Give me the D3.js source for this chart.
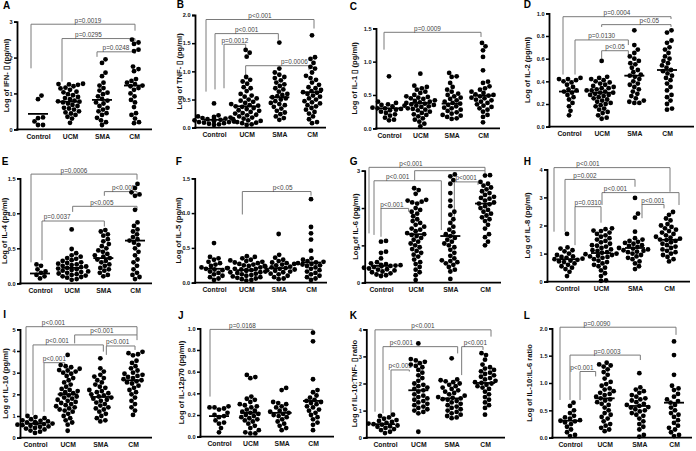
<!DOCTYPE html>
<html><head><meta charset="utf-8">
<script src="https://cdn.jsdelivr.net/npm/d3@7"></script>
<style>body{margin:0;background:#fff}svg{display:block}</style>
</head><body><svg id="c" width="696" height="451"></svg>
<script>
const categories = ["Control","UCM","SMA","CM"];

// ---- values (log units), one array per group ----
const valsA = [
 [0.94,0.84,0.33,0.31,0.22,0.12,0.12],
 [1.27,1.26,1.25,1.24,1.2,1.16,1.14,1.1,1.05,1.03,0.98,0.95,0.9,0.87,0.84,0.8,0.78,0.77,0.75,0.72,0.68,0.65,0.6,0.58,0.55,0.5,0.47,0.44,0.4,0.35,0.3,0.18],
 [1.95,1.85,1.58,1.48,1.3,1.22,1.15,1.08,1.02,0.98,0.92,0.85,0.8,0.75,0.72,0.65,0.6,0.55,0.5,0.45,0.4,0.32,0.25,0.2,0.12],
 [2.5,2.42,2.38,2.22,2.18,1.75,1.68,1.62,1.4,1.35,1.3,1.26,1.22,1.2,1.15,1.1,1.0,0.92,0.82,0.75,0.62,0.45,0.4,0.3,0.2,0.17]];
const valsB = [
 [0.43,0.22,0.2,0.19,0.18,0.17,0.16,0.15,0.15,0.14,0.14,0.13,0.12,0.12,0.11,0.1,0.1,0.09,0.08,0.07,0.06,0.05],
 [1.38,1.33,1.26,0.9,0.85,0.82,0.78,0.72,0.7,0.65,0.6,0.57,0.55,0.52,0.5,0.48,0.46,0.44,0.42,0.4,0.39,0.38,0.37,0.35,0.33,0.31,0.3,0.28,0.26,0.25,0.23,0.22,0.2,0.18,0.16,0.15,0.13,0.12,0.1,0.09,0.08,0.06,0.05],
 [1.51,1.05,0.98,0.94,0.9,0.88,0.84,0.8,0.77,0.74,0.7,0.68,0.64,0.6,0.58,0.56,0.54,0.52,0.5,0.47,0.44,0.42,0.4,0.37,0.34,0.3,0.27,0.24,0.2,0.17,0.14],
 [1.64,1.25,1.22,1.15,1.08,1.05,0.98,0.92,0.88,0.85,0.8,0.76,0.72,0.7,0.67,0.65,0.63,0.62,0.6,0.57,0.55,0.52,0.5,0.47,0.45,0.43,0.4,0.38,0.35,0.32,0.28,0.25,0.2,0.15,0.1,0.08]];
const valsC = [
 [0.78,0.4,0.38,0.36,0.35,0.34,0.33,0.31,0.3,0.3,0.29,0.28,0.27,0.25,0.23,0.21,0.19,0.16,0.13,0.12],
 [0.82,0.64,0.62,0.6,0.58,0.55,0.53,0.5,0.48,0.47,0.46,0.45,0.44,0.42,0.41,0.4,0.39,0.38,0.37,0.36,0.35,0.34,0.33,0.32,0.3,0.29,0.28,0.27,0.25,0.23,0.21,0.2,0.18,0.15,0.13,0.1,0.07,0.03],
 [0.83,0.78,0.77,0.68,0.62,0.58,0.55,0.52,0.5,0.48,0.46,0.44,0.42,0.4,0.38,0.37,0.35,0.33,0.31,0.3,0.28,0.26,0.24,0.22,0.2,0.19,0.17,0.15,0.14],
 [1.28,1.23,1.17,1.07,0.87,0.7,0.68,0.63,0.6,0.58,0.55,0.53,0.51,0.5,0.49,0.48,0.46,0.45,0.43,0.42,0.4,0.38,0.36,0.34,0.32,0.3,0.28,0.25,0.2,0.17,0.09]];
const valsD = [
 [0.43,0.42,0.42,0.41,0.4,0.39,0.37,0.35,0.33,0.32,0.31,0.3,0.28,0.26,0.24,0.21,0.18,0.14,0.1],
 [0.58,0.44,0.43,0.42,0.41,0.4,0.39,0.38,0.37,0.36,0.35,0.34,0.34,0.33,0.32,0.32,0.31,0.3,0.3,0.29,0.28,0.28,0.27,0.26,0.25,0.24,0.23,0.22,0.21,0.2,0.19,0.18,0.16,0.15,0.13,0.12,0.1,0.08,0.07],
 [0.85,0.72,0.68,0.65,0.62,0.6,0.58,0.56,0.55,0.52,0.5,0.48,0.46,0.45,0.44,0.42,0.4,0.38,0.37,0.35,0.33,0.31,0.29,0.27,0.25,0.23,0.22,0.21,0.21],
 [0.85,0.83,0.76,0.74,0.7,0.68,0.65,0.62,0.6,0.58,0.56,0.54,0.52,0.5,0.49,0.47,0.45,0.43,0.41,0.38,0.35,0.32,0.28,0.26,0.23,0.2,0.16,0.15]];
const valsE = [
 [0.27,0.25,0.2,0.17,0.15,0.12,0.1,0.07],
 [0.77,0.49,0.43,0.4,0.38,0.36,0.35,0.33,0.32,0.3,0.29,0.28,0.27,0.26,0.25,0.24,0.23,0.22,0.21,0.2,0.19,0.18,0.17,0.16,0.15,0.14,0.13,0.12,0.11,0.1,0.09,0.08,0.06,0.05],
 [0.76,0.74,0.7,0.68,0.63,0.6,0.56,0.53,0.5,0.47,0.45,0.42,0.4,0.38,0.36,0.34,0.32,0.3,0.27,0.25,0.22,0.2,0.18,0.15,0.12,0.1],
 [1.42,1.36,1.3,1.27,1.25,1.05,0.87,0.82,0.77,0.74,0.7,0.66,0.63,0.61,0.58,0.55,0.5,0.45,0.4,0.34,0.3,0.25,0.2,0.15,0.12,0.09,0.06]];
const valsF = [
 [0.57,0.37,0.35,0.33,0.3,0.28,0.26,0.24,0.22,0.21,0.2,0.19,0.18,0.16,0.14,0.12,0.1,0.08,0.06,0.04],
 [0.38,0.37,0.35,0.33,0.32,0.31,0.3,0.29,0.28,0.27,0.26,0.25,0.24,0.23,0.22,0.21,0.2,0.2,0.19,0.18,0.18,0.17,0.16,0.15,0.15,0.14,0.13,0.12,0.11,0.1,0.09,0.08,0.07,0.06,0.05,0.04,0.03],
 [0.7,0.4,0.36,0.33,0.31,0.29,0.28,0.27,0.26,0.25,0.24,0.23,0.22,0.21,0.2,0.19,0.18,0.17,0.16,0.15,0.13,0.12,0.1,0.08,0.06,0.05],
 [1.2,0.8,0.71,0.62,0.46,0.35,0.33,0.31,0.3,0.29,0.28,0.27,0.26,0.25,0.24,0.22,0.2,0.18,0.16,0.14,0.12,0.1,0.08,0.06,0.04]];
const valsG = [
 [1.12,1.1,0.83,0.8,0.65,0.55,0.52,0.5,0.48,0.47,0.46,0.45,0.44,0.42,0.4,0.38,0.36,0.35,0.33,0.3,0.28,0.25,0.22,0.2,0.18],
 [2.53,2.48,2.38,2.22,2.2,2.17,2.15,2.12,2.0,1.95,1.9,1.85,1.78,1.7,1.65,1.6,1.55,1.5,1.45,1.42,1.38,1.33,1.3,1.28,1.25,1.2,1.15,1.1,1.05,1.0,0.95,0.9,0.85,0.8,0.75,0.7,0.62,0.55,0.5,0.42,0.35,0.28,0.2,0.07],
 [2.9,2.85,2.75,2.65,2.4,2.2,2.05,1.9,1.82,1.7,1.6,1.5,1.42,1.35,1.3,1.25,1.2,1.15,1.1,1.05,1.0,0.95,0.88,0.8,0.72,0.65,0.6,0.58,0.55,0.52,0.48,0.42,0.35,0.3,0.1],
 [2.88,2.87,2.7,2.65,2.6,2.55,2.5,2.45,2.4,2.35,2.3,2.27,2.25,2.2,2.15,2.12,2.1,2.05,2.0,1.95,1.9,1.85,1.8,1.75,1.7,1.65,1.55,1.45,1.3,1.22,1.1,1.0]];
const valsH = [
 [1.7,1.22,1.18,1.12,1.08,1.0,0.95,0.9,0.88,0.85,0.82,0.8,0.78,0.75,0.72,0.7,0.65,0.6,0.55,0.5,0.45,0.35,0.2],
 [1.9,1.87,1.82,1.8,1.75,1.7,1.65,1.6,1.55,1.5,1.45,1.4,1.35,1.3,1.28,1.25,1.2,1.15,1.12,1.1,1.05,1.03,1.0,0.98,0.95,0.92,0.9,0.88,0.85,0.8,0.75,0.7,0.65,0.6,0.55,0.5,0.4,0.3,0.2,0.05,0.03],
 [2.98,2.42,2.28,1.78,1.55,1.5,1.45,1.42,1.38,1.35,1.3,1.27,1.24,1.2,1.18,1.15,1.12,1.1,1.07,1.05,1.0,0.95,0.9,0.85,0.8,0.72,0.65,0.55,0.45],
 [2.48,2.38,2.25,2.18,2.05,2.0,1.95,1.9,1.85,1.8,1.75,1.7,1.65,1.6,1.57,1.53,1.5,1.48,1.45,1.4,1.35,1.3,1.25,1.2,1.15,1.1,1.05,1.0,0.95,0.88,0.8,0.72]];
const valsI = [
 [1.0,0.95,0.9,0.85,0.8,0.78,0.75,0.72,0.7,0.68,0.66,0.65,0.63,0.6,0.58,0.55,0.52,0.5,0.45,0.42,0.38,0.33,0.28,0.22],
 [3.82,3.35,3.3,3.25,3.18,3.12,3.1,3.05,3.0,2.95,2.85,2.75,2.65,2.55,2.45,2.35,2.25,2.2,2.15,2.1,2.05,2.0,1.95,1.9,1.85,1.8,1.75,1.7,1.65,1.6,1.55,1.5,1.45,1.4,1.35,1.3,1.25,1.2,1.1,1.0,0.9,0.8,0.7,0.6,0.32],
 [3.66,3.2,3.05,2.9,2.82,2.75,2.65,2.55,2.45,2.35,2.3,2.2,2.15,2.1,2.05,2.0,1.95,1.9,1.85,1.8,1.75,1.7,1.62,1.55,1.48,1.4,1.35,1.3,1.2,1.1,1.0,0.9,0.8,0.75],
 [3.96,3.9,3.85,3.8,3.55,3.45,3.3,3.2,3.1,3.0,2.95,2.9,2.85,2.8,2.75,2.7,2.65,2.6,2.55,2.5,2.4,2.3,2.2,2.1,2.0,1.85,1.7,1.55,1.4,1.25,1.05]];
const valsJ = [
 [0.28,0.27,0.27,0.26,0.25,0.22,0.2,0.19,0.18,0.15,0.13,0.12,0.08,0.04],
 [0.57,0.55,0.54,0.37,0.35,0.34,0.32,0.3,0.29,0.28,0.27,0.25,0.24,0.23,0.22,0.21,0.2,0.19,0.18,0.17,0.16,0.15,0.14,0.12,0.1,0.08,0.06,0.04,0.03,0.03],
 [0.45,0.43,0.32,0.31,0.3,0.28,0.27,0.25,0.24,0.23,0.22,0.21,0.2,0.19,0.18,0.16,0.14,0.12,0.1,0.08,0.06],
 [0.96,0.88,0.53,0.43,0.41,0.38,0.36,0.34,0.33,0.32,0.31,0.3,0.28,0.27,0.25,0.24,0.22,0.2,0.18,0.16,0.13,0.11,0.06]];
const valsK = [
 [0.85,0.8,0.75,0.7,0.65,0.62,0.58,0.55,0.52,0.5,0.48,0.45,0.42,0.4,0.36,0.32,0.28,0.22,0.17],
 [3.48,2.9,2.85,2.8,2.75,2.7,2.65,2.6,2.5,2.4,2.3,2.2,2.1,2.0,1.95,1.9,1.85,1.8,1.75,1.7,1.6,1.55,1.5,1.45,1.4,1.35,1.3,1.25,1.2,1.15,1.1,1.05,1.0,0.95,0.9,0.22],
 [2.93,2.15,2.12,2.08,2.05,2.0,1.95,1.9,1.85,1.8,1.75,1.7,1.65,1.6,1.55,1.5,1.47,1.45,1.42,1.4,1.35,1.3,1.25,1.2,1.15,1.1,1.05,1.0,0.95,0.9,0.85,0.8,0.75,0.72],
 [3.12,3.05,2.88,2.7,2.6,2.55,2.5,2.45,2.4,2.35,2.3,2.25,2.2,2.15,2.1,2.05,2.02,2.0,1.95,1.9,1.85,1.8,1.7,1.6,1.5,1.4,1.3,1.2,1.1,0.85]];
const valsL = [
 [0.64,0.58,0.5,0.45,0.4,0.37,0.35,0.32,0.31,0.3,0.28,0.25,0.2,0.15,0.1,0.05,0.03],
 [1.37,1.34,1.32,1.3,1.25,1.2,1.15,1.08,1.02,0.98,0.95,0.9,0.88,0.85,0.82,0.8,0.78,0.75,0.72,0.7,0.68,0.65,0.62,0.6,0.55,0.5,0.45,0.42,0.38,0.35,0.3,0.25,0.22,0.18,0.15,0.12],
 [1.18,0.92,0.88,0.85,0.82,0.78,0.75,0.72,0.7,0.68,0.65,0.62,0.6,0.58,0.56,0.55,0.52,0.5,0.48,0.45,0.42,0.4,0.35,0.3,0.25,0.2,0.15,0.05,0.02],
 [1.76,1.51,1.15,0.95,0.9,0.87,0.8,0.75,0.7,0.67,0.64,0.6,0.55,0.5,0.45,0.42,0.38,0.32,0.27,0.22,0.18,0.15,0.1,0.05,0.03]];

// ---- medians (horizontal bars) ----
const medA = [0.43,0.77,0.82,1.22];
const medB = [0.14,0.38,0.54,0.63];
const medC = [0.3,0.38,0.37,0.49];
const medD = [0.31,0.3,0.45,0.5];
const medE = [0.14,0.22,0.36,0.61];
const medF = [0.2,0.18,0.21,0.29];
const medG = [0.45,1.3,1.25,2.12];
const medH = [0.8,1.02,1.2,1.49];
const medI = [0.65,2.0,1.88,2.65];
const medJ = [0.19,0.22,0.22,0.33];
const medK = [0.5,1.75,1.45,2.02];
const medL = [0.31,0.72,0.58,0.64];

// ---- y tick values ----
const ticksA = [0,1,2,3], ticksB = [0,0.5,1,1.5,2], ticksC = [0,0.5,1,1.5], ticksD = [0,0.2,0.4,0.6,0.8,1];
const ticksE = [0,0.5,1,1.5], ticksF = [0,0.5,1,1.5], ticksG = [0,1,2,3], ticksH = [0,1,2,3,4];
const ticksI = [0,1,2,3,4,5], ticksJ = [0,0.2,0.4,0.6,0.8,1], ticksK = [0,1,2,3,4], ticksL = [0,0.5,1,1.5,2];

// ---- significance brackets: [from, to, level, leftLegEnd, rightLegEnd, label] ----
const brA = [[0,3,2.93,1.7,2.75,"p=0.0019"],[1,3,2.53,1.33,2.45,"p=0.0295"],[2,3,2.16,2.02,2.1,"p=0.0248"]];
const brB = [[0,3,1.92,0.64,1.76,"p<0.001"],[0,2,1.67,0.68,1.56,"p<0.001"],[0,1,1.48,0.7,1.41,"p=0.0012"],[1,3,1.1,0.92,1.02,"p=0.0006"]];
const brC = [[0,3,1.44,1.18,1.37,"p=0.0009"]];
const brD = [[0,3,0.97,0.46,0.95,"p=0.0004"],[1,3,0.9,0.88,0.88,"p<0.05"],[0,2,0.765,0.46,0.72,"p=0.0130"],[1,2,0.67,0.6,0.63,"p<0.05"]];
const brE = [[0,3,1.56,0.3,1.48,"p=0.0006"],[2,3,1.31,1.25,1.24,"p<0.005"],[1,3,1.1,1.02,1.05,"p<0.005"],[0,2,0.89,0.33,0.81,"p=0.0037"]];
const brF = [[1,3,1.31,0.98,1.25,"p<0.05"]];
const brG = [[0,3,3.09,1.32,3.0,"p<0.001"],[1,3,3.0,2.75,2.91,""],[0,2,2.73,1.28,1.41,"p<0.001"],[0,1,1.99,1.23,1.9,"p<0.001"],[2,3,2.7,1.77,2.62,"p<0001"]];
const brH = [[0,3,4.06,1.78,3.2,"p<0.001"],[0,2,3.64,1.78,3.38,"p=0.002"],[1,3,3.17,2.73,2.73,"p<0.001"],[2,3,2.75,2.26,2.61,"p<0.001"],[0,1,2.67,1.3,2.1,"p=0.0310"]];
const brI = [[0,3,5.12,1.05,4.74,"p<0.001"],[1,3,4.74,4.35,4.5,"p<0.001"],[0,2,4.28,1.05,3.97,"p<0.001"],[2,3,4.23,3.82,4.05,"p<0.001"],[0,1,3.46,1.2,3.2,"p<0.001"]];
const brJ = [[0,3,0.99,0.37,0.96,"p=0.0168"]];
const brK = [[0,3,3.98,0.96,3.73,"p<0.001"],[0,2,3.36,0.9,3.11,"p<0.001"],[0,1,2.5,0.84,2.44,"p<0.001"],[2,3,3.36,2.31,3.24,"p<0.001"]];
const brL = [[0,3,2.02,0.69,1.88,"p=0.0090"],[0,2,1.51,0.69,1.42,"p=0.0003"],[0,1,1.21,0.69,1.12,"p<0.001"]];

const ylabels = {
 A:"Log of IFN- \u25AF (pg/ml)", B:"Log of TNF- \u25AF (pg/ml)", C:"Log of IL-1 \u25AF (pg/ml)", D:"Log of IL-2 (pg/ml)",
 E:"Log of IL-4 (pg/ml)", F:"Log of IL-5 (pg/ml)", G:"Log of IL-6 (pg/ml)", H:"Log of IL-8 (pg/ml)",
 I:"Log of IL-10 (pg/ml)", J:"Log of IL-12p70 (pg/ml)", K:"Log of IL-10:TNF- \u25AF ratio", L:"Log of IL-10:IL-6 ratio"};

const panels = [
 {id:"A",vals:valsA,med:medA,ticks:ticksA,br:brA,fmt:"d"},
 {id:"B",vals:valsB,med:medB,ticks:ticksB,br:brB,fmt:".1f"},
 {id:"C",vals:valsC,med:medC,ticks:ticksC,br:brC,fmt:".1f"},
 {id:"D",vals:valsD,med:medD,ticks:ticksD,br:brD,fmt:".1f"},
 {id:"E",vals:valsE,med:medE,ticks:ticksE,br:brE,fmt:".1f"},
 {id:"F",vals:valsF,med:medF,ticks:ticksF,br:brF,fmt:".1f"},
 {id:"G",vals:valsG,med:medG,ticks:ticksG,br:brG,fmt:"d"},
 {id:"H",vals:valsH,med:medH,ticks:ticksH,br:brH,fmt:"d"},
 {id:"I",vals:valsI,med:medI,ticks:ticksI,br:brI,fmt:"d"},
 {id:"J",vals:valsJ,med:medJ,ticks:ticksJ,br:brJ,fmt:".1f"},
 {id:"K",vals:valsK,med:medK,ticks:ticksK,br:brK,fmt:"d"},
 {id:"L",vals:valsL,med:medL,ticks:ticksL,br:brL,fmt:".1f"}];

// ---- layout (pixels) ----
const layout = {
 A:{ax:17,xe:152,y0:129.3,yt:21.7,c0:38,c1:134,lx:3,ly:8.5,ylx:6,bdx:[[-7,1,5],[-8,1,-10],[-5,1,0]]},
 B:{ax:195,xe:326,y0:127.7,yt:15,c0:214,c1:312,lx:176.7,ly:8.3,ylx:179,bdx:[[-8,2,0],[1,-1,0],[10,-1,0],[-1,-3,17]]},
 C:{ax:376,xe:500,y0:128.3,yt:28.3,c0:389,c1:483,lx:349.7,ly:10,ylx:354,bdx:[[-5,-2,-5]]},
 D:{ax:549,xe:694,y0:126.7,yt:13.3,c0:569,c1:667,lx:523.7,ly:8.3,ylx:527,bdx:[[-6,4,0],[0,4,13],[6,-6,0],[0,-6,0]]},
 E:{ax:20,xe:152,y0:283.3,yt:178.3,c0:40,c1:135,lx:1.7,ly:165,ylx:4,bdx:[[-9,2,-10],[1,2,3],[1,2,-3],[2,1,-16]]},
 F:{ax:194.7,xe:327,y0:282.7,yt:178.3,c0:214,c1:311,lx:175.7,ly:165,ylx:178,bdx:[[-4,0,6]]},
 G:{ax:364.7,xe:501,y0:282.7,yt:170.7,c0:381,c1:485,lx:349.7,ly:165,ylx:355,bdx:[[-12,0,-16],[-1,0,0],[-7,-9,-10],[0,-7,-3],[4,-7,0]]},
 H:{ax:547,xe:690,y0:281.7,yt:169.3,c0:567,c1:669,lx:523.7,ly:165,ylx:527,bdx:[[-13,1,-24],[-2,0,-15],[1,10,-25],[7,-5,0],[8,0,0]]},
 I:{ax:20,xe:152,y0:437.7,yt:329.3,c0:35,c1:133,lx:3.3,ly:318.3,ylx:5,bdx:[[-9,4,-28],[7,4,-4],[-2,3,-11],[6,2,-3],[9,-3,0]]},
 J:{ax:200,xe:334,y0:436.7,yt:328.3,c0:219,c1:313,lx:178,ly:319.3,ylx:181,bdx:[[-9,0,-19]]},
 K:{ax:366.3,xe:505,y0:437.7,yt:329.3,c0:385,c1:485,lx:349.7,ly:319.3,ylx:354,bdx:[[-10,6,-10],[-2,6,-19],[6,-9,0],[10,-2,3]]},
 L:{ax:552,xe:692,y0:437.7,yt:328.3,c0:570,c1:674,lx:523.7,ly:319.3,ylx:529,bdx:[[-10,2,-21],[0,1,2],[10,-9,-6]]}};

const FONT = "'Liberation Sans', Arial, sans-serif";
const R = 2.4;
const svg = d3.select("#c");

function swarm(values, y, r) {
  const order = values.map((v,i)=>i).sort((a,b)=>values[a]-values[b]);
  const placed = [], out = new Array(values.length);
  const sep = 2*r*0.98;
  for (const i of order) {
    const py = y(values[i]);
    let chosen = 0;
    for (let k=0;k<80;k++){
      const dx = (k%2 ? 1 : -1) * Math.ceil(k/2) * 0.5;
      let ok = true;
      for (const p of placed){
        const ddx = dx-p.dx, ddy = py-p.y;
        if (ddx*ddx+ddy*ddy < sep*sep){ ok=false; break; }
      }
      if (ok){ chosen = dx; break; }
    }
    placed.push({dx:chosen,y:py});
    out[i] = chosen;
  }
  return out;
}

panels.forEach(p => {
  const L = layout[p.id];
  const ymax = p.ticks[p.ticks.length-1];
  const y = d3.scaleLinear().domain([0, ymax]).range([L.y0, L.yt]);
  const x = d3.scalePoint().domain(categories).range([L.c0, L.c1]);
  const g = svg.append("g");

  // panel letter
  g.append("text").attr("x",L.lx).attr("y",L.ly).text(p.id)
    .attr("font-family",FONT).attr("font-weight","bold").attr("font-size",10);

  // y axis
  const ya = g.append("g").attr("transform",`translate(${L.ax},0)`)
    .call(d3.axisLeft(y).tickValues(p.ticks).tickFormat(d3.format(p.fmt)).tickSize(3).tickPadding(1.5));
  ya.select(".domain").attr("stroke","#000").attr("stroke-width",1.8);
  ya.selectAll(".tick line").attr("stroke","#000").attr("stroke-width",1.5);
  ya.selectAll(".tick text").attr("font-family",FONT).attr("font-size",5.6).attr("font-weight","bold").attr("fill","#111");

  // x axis line
  g.append("line").attr("x1",L.ax-0.9).attr("x2",L.xe).attr("y1",L.y0).attr("y2",L.y0)
    .attr("stroke","#000").attr("stroke-width",1.8);
  const xa = g.append("g").attr("transform",`translate(0,${L.y0})`)
    .call(d3.axisBottom(x).tickSize(0).tickPadding(4.5));
  xa.select(".domain").remove();
  xa.selectAll(".tick text").attr("font-family",FONT).attr("font-size",6.8).attr("font-weight","bold").attr("fill","#111");

  // y label
  g.append("text").attr("transform",`translate(${L.ylx},${(L.y0+L.yt)/2}) rotate(-90)`)
    .attr("text-anchor","middle").attr("dominant-baseline","central")
    .attr("font-family",FONT).attr("font-weight","bold").attr("font-size",7.6).attr("fill","#111")
    .text(ylabels[p.id]);

  // brackets
  p.br.forEach((b,i) => {
    const d = L.bdx[i] || [0,0,0];
    const xl = x(categories[b[0]]) + d[0], xr = x(categories[b[1]]) + d[1];
    const yl = y(b[2]);
    g.append("path")
      .attr("d",`M${xl},${y(b[3])}V${yl}H${xr}V${y(b[4])}`)
      .attr("fill","none").attr("stroke","#7a7a7a").attr("stroke-width",1);
    if (b[5]) g.append("text").attr("x",(xl+xr)/2 + d[2]).attr("y",yl-1.6)
      .attr("text-anchor","middle").attr("font-family",FONT).attr("font-size",6.4).attr("fill","#444")
      .text(b[5]);
  });

  // dots
  p.vals.forEach((vals,ci) => {
    const cx = x(categories[ci]);
    const offs = swarm(vals, y, R);
    g.append("g").selectAll("circle").data(vals).join("circle")
      .attr("cx",(d,i)=>cx+offs[i]).attr("cy",d=>y(d)).attr("r",R).attr("fill","#000");
    // median
    g.append("line").attr("x1",cx-10).attr("x2",cx+10)
      .attr("y1",y(p.med[ci])).attr("y2",y(p.med[ci]))
      .attr("stroke","#000").attr("stroke-width",1.8);
  });
});
</script>
</body></html>
